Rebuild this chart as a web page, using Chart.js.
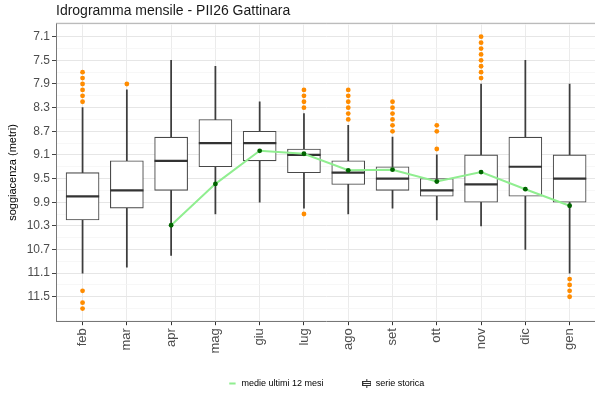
<!DOCTYPE html>
<html>
<head>
<meta charset="utf-8">
<script src="https://cdn.jsdelivr.net/npm/chart.js@4"></script>
<style>
  html, body { margin: 0; padding: 0; background: #fff; overflow: hidden; }
</style>
</head>
<body>
<canvas id="chartBox" width="615" height="398"></canvas>
<script>
// monthly groundwater depth, historical distribution + last 12 months
const months = ["feb", "mar", "apr", "mag", "giu", "lug", "ago", "set", "ott", "nov", "dic", "gen"];
const whiskerTop = [8.3, 8.0, 7.5, 7.6, 8.2, 8.4, 8.6, 8.8, 9.1, 7.9, 7.5, 7.9];
const boxTop = [9.4, 9.2, 8.8, 8.5, 8.7, 9.0, 9.2, 9.3, 9.5, 9.1, 8.8, 9.1];
const medians = [9.8, 9.7, 9.2, 8.9, 8.9, 9.1, 9.4, 9.5, 9.7, 9.6, 9.3, 9.5];
const boxBottom = [10.2, 10.0, 9.7, 9.3, 9.2, 9.4, 9.6, 9.7, 9.8, 9.9, 9.8, 9.9];
const whiskerBottom = [11.1, 11.0, 10.8, 10.1, 9.9, 10.0, 10.1, 10.0, 10.2, 10.3, 10.7, 11.1];
const outliers = [
  [7.7, 7.8, 7.9, 8.0, 8.1, 8.2, 11.4, 11.6, 11.7],
  [7.9],
  [],
  [],
  [],
  [8.0, 8.1, 8.2, 8.3, 10.1],
  [8.0, 8.1, 8.2, 8.3, 8.4, 8.5],
  [8.2, 8.3, 8.4, 8.5, 8.6, 8.7],
  [8.6, 8.7, 9.0],
  [7.1, 7.2, 7.3, 7.4, 7.5, 7.6, 7.7, 7.8],
  [],
  [11.2, 11.3, 11.4, 11.5]
];
const lastYearMeans = [null, null, 10.29, 9.59, 9.03, 9.08, 9.36, 9.35, 9.55, 9.39, 9.68, 9.96];
const yTicks = [7.1, 7.5, 7.9, 8.3, 8.7, 9.1, 9.5, 9.9, 10.3, 10.7, 11.1, 11.5];

const whiskerData = months.map((m, i) => ({ x: i, y: [whiskerTop[i], whiskerBottom[i]] }));
const boxData = months.map((m, i) => ({ x: i, y: [boxTop[i], boxBottom[i]] }));
const medianData = medians.map((v, i) => ({ x: i, y: v }));
const outlierData = outliers.flatMap((vals, i) => vals.map((v) => ({ x: i, y: v })));
const meanData = lastYearMeans
  .map((v, i) => ({ x: i, y: v }))
  .filter((p) => p.y !== null);

const isMajor = (v) => yTicks.some((t) => Math.abs(t - v) < 1e-6);

// little boxplot glyph for the legend
const boxIcon = document.createElement("canvas");
boxIcon.width = 9;
boxIcon.height = 9;
const ic = boxIcon.getContext("2d");
ic.strokeStyle = "#333";
ic.lineWidth = 1;
ic.beginPath();
ic.moveTo(4.5, 0);
ic.lineTo(4.5, 9);
ic.stroke();
ic.fillStyle = "#fff";
ic.fillRect(0.5, 2.5, 8, 4);
ic.strokeRect(0.5, 2.5, 8, 4);
ic.beginPath();
ic.moveTo(0.5, 4.5);
ic.lineTo(8.5, 4.5);
ic.stroke();

// top edge of the panel
const panelTop = {
  id: "panelTop",
  beforeDatasetsDraw(chart) {
    const { ctx, chartArea } = chart;
    ctx.save();
    ctx.strokeStyle = "#aaa";
    ctx.lineWidth = 1;
    ctx.beginPath();
    ctx.moveTo(chartArea.left, chartArea.top);
    ctx.lineTo(chartArea.right, chartArea.top);
    ctx.stroke();
    ctx.restore();
  },
};

Chart.defaults.font.family = "'Liberation Sans', Arial, sans-serif";
Chart.defaults.color = "#4d4d4d";

const chartBox = new Chart("chartBox", {
  type: "bar",
  data: {
    datasets: [
      {
        type: "line",
        label: "medie ultimi 12 mesi",
        data: meanData,
        order: 1,
        borderColor: "#90ee90",
        borderWidth: 2,
        pointRadius: 2.4,
        pointBackgroundColor: "#006400",
        pointBorderWidth: 0,
        tension: 0,
      },
      {
        type: "line",
        label: "outlier",
        data: outlierData,
        order: 2,
        showLine: false,
        pointRadius: 2.4,
        pointBackgroundColor: "#ff8c00",
        pointBorderWidth: 0,
      },
      {
        type: "line",
        label: "mediana",
        data: medianData,
        order: 3,
        showLine: false,
        pointStyle: "line",
        pointRadius: 16.6,
        pointBorderColor: "#333",
        pointBorderWidth: 2.2,
      },
      {
        label: "serie storica",
        data: boxData,
        order: 4,
        barThickness: 33,
        grouped: false,
        backgroundColor: "#fff",
        borderColor: "#484848",
        borderWidth: 1.1,
        borderSkipped: false,
      },
      {
        label: "baffi",
        data: whiskerData,
        order: 5,
        barThickness: 1.1,
        grouped: false,
        backgroundColor: "#3d3d3d",
      },
    ],
  },
  options: {
    responsive: false,
    animation: false,
    events: [],
    scales: {
      x: {
        type: "linear",
        offset: false,
        min: -0.6,
        max: 11.6,
        afterBuildTicks: (s) => {
          s.ticks = months.map((m, i) => ({ value: i }));
        },
        afterFit: (s) => {
          s.height = 36;
        },
        ticks: {
          callback: (v) => months[v],
          autoSkip: false,
          minRotation: 90,
          maxRotation: 90,
          padding: 3,
          color: "#4d4d4d",
          font: { size: 13 },
        },
        grid: {
          offset: false,
          color: "#ebebeb",
          lineWidth: 1,
          tickColor: "#333",
          tickLength: 3.5,
        },
        border: { color: "#777", width: 1 },
      },
      y: {
        reverse: true,
        min: 6.873,
        max: 11.922,
        afterBuildTicks: (s) => {
          const step = (yTicks[1] - yTicks[0]) / 2;
          const vals = [];
          for (let v = yTicks[0] - step; v <= s.max + 1e-9; v += step) {
            if (v >= s.min) vals.push(+v.toFixed(2));
          }
          s.ticks = vals.map((v) => ({ value: v }));
        },
        afterFit: (s) => {
          s.width = 56;
        },
        ticks: {
          callback: (v) => (isMajor(v) ? v.toFixed(1) : ""),
          autoSkip: false,
          padding: 2,
          color: "#4d4d4d",
          font: { size: 12 },
        },
        grid: {
          color: (ctx) => (isMajor(ctx.tick.value) ? "#e6e6e6" : "#f3f3f3"),
          lineWidth: (ctx) => (isMajor(ctx.tick.value) ? 1 : 0.7),
          tickColor: (ctx) => (isMajor(ctx.tick.value) ? "#444" : "rgba(0,0,0,0)"),
          tickLength: 4,
        },
        border: { color: "#777", width: 1 },
        title: {
          display: true,
          text: "soggiacenza (metri)",
          color: "#000",
          font: { size: 11 },
          padding: { top: 6, bottom: 0 },
        },
      },
    },
    plugins: {
      title: {
        display: true,
        text: "Idrogramma mensile - PII26 Gattinara",
        align: "start",
        fullSize: false,
        color: "#1a1a1a",
        font: { size: 14, weight: "normal" },
        padding: { top: 2.6, bottom: 3.9 },
      },
      legend: {
        position: "bottom",
        fullSize: false,
        labels: {
          usePointStyle: true,
          boxWidth: 9,
          boxHeight: 4.5,
          padding: 21.3,
          color: "#333",
          font: { size: 9 },
          generateLabels: () => [
            {
              // trailing spaces widen the gap before the next entry
              text: "medie ultimi 12 mesi       ",
              pointStyle: "line",
              strokeStyle: "#90ee90",
              fillStyle: "#90ee90",
              lineWidth: 2,
              hidden: false,
              datasetIndex: 0,
            },
            {
              text: "serie storica",
              pointStyle: boxIcon,
              strokeStyle: "#333",
              fillStyle: "#fff",
              lineWidth: 1,
              hidden: false,
              datasetIndex: 3,
            },
          ],
        },
      },
      tooltip: { enabled: false },
    },
  },
  plugins: [panelTop],
});
</script>
</body>
</html>
